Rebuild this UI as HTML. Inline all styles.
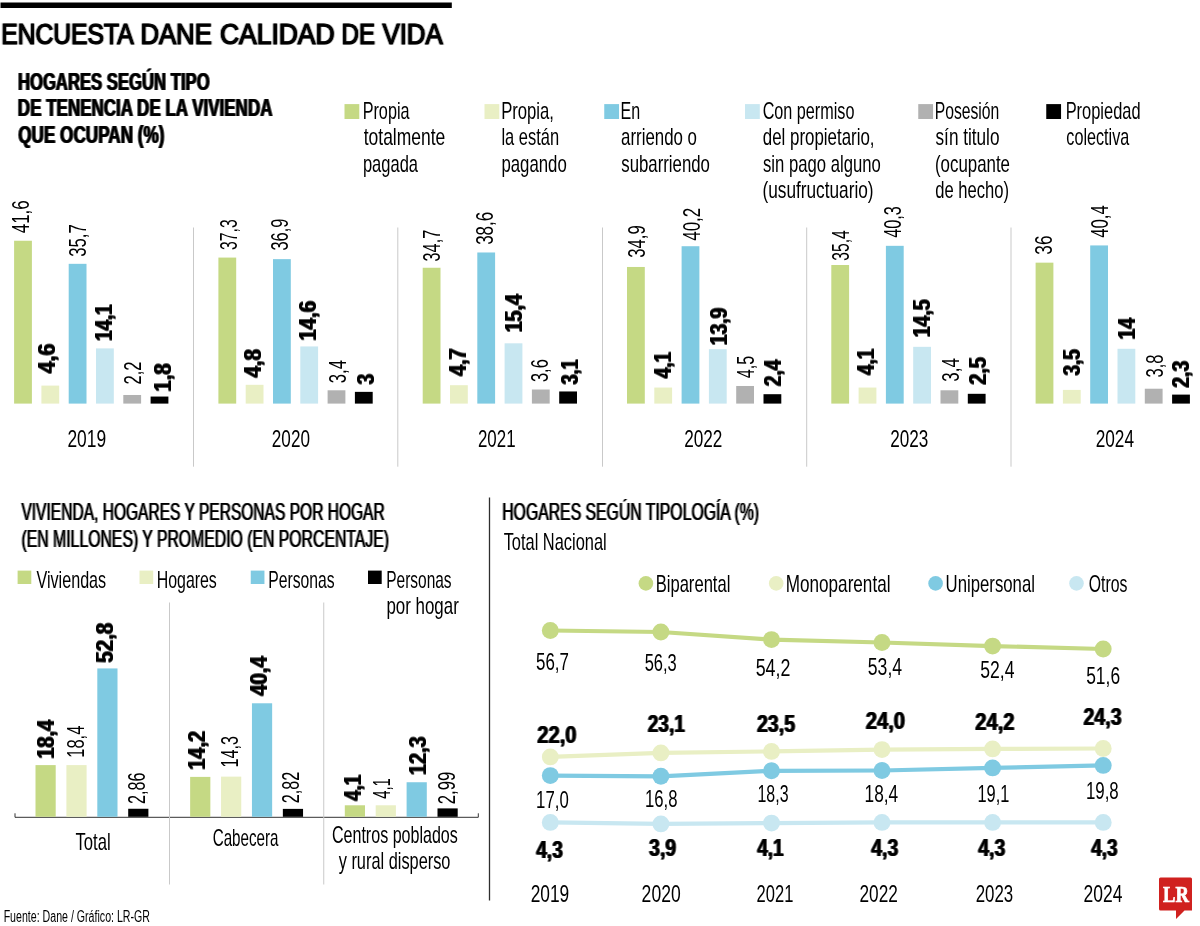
<!DOCTYPE html>
<html lang="es"><head><meta charset="utf-8"><title>Encuesta Dane Calidad de Vida</title>
<style>
html,body{margin:0;padding:0;background:#fff;}
body{width:1200px;height:926px;overflow:hidden;}
svg{display:block;font-family:"Liberation Sans",sans-serif;}
</style></head><body>
<svg width="1200" height="926" viewBox="0 0 1200 926">
<rect width="1200" height="926" fill="#fff"/>
<defs>
<filter id="fht" filterUnits="userSpaceOnUse" x="0" y="0" width="1200" height="926"><feColorMatrix type="matrix" values="1 0 0 0 0 0 1 0 0 0 0 0 1 0 0 0 0 0 0.3 0" result="h"/><feOffset in="h" dx="1" result="a"/><feOffset in="h" dx="-1" result="b"/><feMerge><feMergeNode in="a"/><feMergeNode in="b"/><feMergeNode in="SourceGraphic"/></feMerge></filter>
<filter id="fhm" filterUnits="userSpaceOnUse" x="0" y="0" width="1200" height="926"><feColorMatrix type="matrix" values="1 0 0 0 0 0 1 0 0 0 0 0 1 0 0 0 0 0 0.45 0" result="h"/><feOffset in="h" dx="1" result="a"/><feOffset in="h" dx="-1" result="b"/><feMerge><feMergeNode in="a"/><feMergeNode in="b"/><feMergeNode in="SourceGraphic"/></feMerge></filter>
<filter id="fhb" filterUnits="userSpaceOnUse" x="0" y="0" width="1200" height="926"><feColorMatrix type="matrix" values="1 0 0 0 0 0 1 0 0 0 0 0 1 0 0 0 0 0 0.6 0" result="h"/><feOffset in="h" dx="1" result="a"/><feOffset in="h" dx="-1" result="b"/><feMerge><feMergeNode in="a"/><feMergeNode in="b"/><feMergeNode in="SourceGraphic"/></feMerge></filter>
<filter id="fvb" filterUnits="userSpaceOnUse" x="0" y="0" width="1200" height="926"><feColorMatrix type="matrix" values="1 0 0 0 0 0 1 0 0 0 0 0 1 0 0 0 0 0 0.65 0" result="h"/><feOffset in="h" dy="1" result="a"/><feOffset in="h" dy="-1" result="b"/><feMerge><feMergeNode in="a"/><feMergeNode in="b"/><feMergeNode in="SourceGraphic"/></feMerge></filter>
</defs>
<rect x="0.50" y="2.50" width="451.30" height="5.50" fill="#000"/>
<rect x="344.50" y="104.10" width="14.80" height="14.90" fill="#c5d984"/>
<rect x="484.50" y="104.10" width="14.80" height="14.90" fill="#e9efc4"/>
<rect x="604.25" y="104.10" width="14.80" height="14.90" fill="#7fcae2"/>
<rect x="745.00" y="104.10" width="14.80" height="14.90" fill="#c8e7f1"/>
<rect x="918.25" y="104.10" width="14.80" height="14.90" fill="#b1b1b1"/>
<rect x="1046.25" y="104.10" width="14.80" height="14.90" fill="#000"/>
<rect x="14.10" y="240.74" width="17.80" height="162.86" fill="#c5d984"/>
<rect x="41.40" y="385.59" width="17.80" height="18.01" fill="#e9efc4"/>
<rect x="68.70" y="263.83" width="17.80" height="139.77" fill="#7fcae2"/>
<rect x="96.00" y="348.40" width="17.80" height="55.20" fill="#c8e7f1"/>
<rect x="123.30" y="394.99" width="17.80" height="8.61" fill="#b1b1b1"/>
<rect x="150.60" y="396.55" width="17.80" height="7.05" fill="#000"/>
<line x1="193.50" y1="227.50" x2="193.50" y2="466.70" stroke="#c9c9c9" stroke-width="1"/>
<rect x="218.40" y="257.57" width="17.80" height="146.03" fill="#c5d984"/>
<rect x="245.70" y="384.81" width="17.80" height="18.79" fill="#e9efc4"/>
<rect x="273.00" y="259.14" width="17.80" height="144.46" fill="#7fcae2"/>
<rect x="300.30" y="346.44" width="17.80" height="57.16" fill="#c8e7f1"/>
<rect x="327.60" y="390.29" width="17.80" height="13.31" fill="#b1b1b1"/>
<rect x="354.90" y="391.86" width="17.80" height="11.75" fill="#000"/>
<line x1="397.80" y1="227.50" x2="397.80" y2="466.70" stroke="#c9c9c9" stroke-width="1"/>
<rect x="422.70" y="267.75" width="17.80" height="135.85" fill="#c5d984"/>
<rect x="450.00" y="385.20" width="17.80" height="18.40" fill="#e9efc4"/>
<rect x="477.30" y="252.48" width="17.80" height="151.12" fill="#7fcae2"/>
<rect x="504.60" y="343.31" width="17.80" height="60.29" fill="#c8e7f1"/>
<rect x="531.90" y="389.51" width="17.80" height="14.09" fill="#b1b1b1"/>
<rect x="559.20" y="391.46" width="17.80" height="12.14" fill="#000"/>
<line x1="602.50" y1="227.50" x2="602.50" y2="466.70" stroke="#c9c9c9" stroke-width="1"/>
<rect x="627.00" y="266.97" width="17.80" height="136.63" fill="#c5d984"/>
<rect x="654.30" y="387.55" width="17.80" height="16.05" fill="#e9efc4"/>
<rect x="681.60" y="246.22" width="17.80" height="157.38" fill="#7fcae2"/>
<rect x="708.90" y="349.18" width="17.80" height="54.42" fill="#c8e7f1"/>
<rect x="736.20" y="385.98" width="17.80" height="17.62" fill="#b1b1b1"/>
<rect x="763.50" y="394.20" width="17.80" height="9.40" fill="#000"/>
<line x1="806.70" y1="227.50" x2="806.70" y2="466.70" stroke="#c9c9c9" stroke-width="1"/>
<rect x="831.30" y="265.01" width="17.80" height="138.59" fill="#c5d984"/>
<rect x="858.60" y="387.55" width="17.80" height="16.05" fill="#e9efc4"/>
<rect x="885.90" y="245.83" width="17.80" height="157.77" fill="#7fcae2"/>
<rect x="913.20" y="346.83" width="17.80" height="56.77" fill="#c8e7f1"/>
<rect x="940.50" y="390.29" width="17.80" height="13.31" fill="#b1b1b1"/>
<rect x="967.80" y="393.81" width="17.80" height="9.79" fill="#000"/>
<line x1="1011.00" y1="227.50" x2="1011.00" y2="466.70" stroke="#c9c9c9" stroke-width="1"/>
<rect x="1035.60" y="262.66" width="17.80" height="140.94" fill="#c5d984"/>
<rect x="1062.90" y="389.90" width="17.80" height="13.70" fill="#e9efc4"/>
<rect x="1090.20" y="245.43" width="17.80" height="158.17" fill="#7fcae2"/>
<rect x="1117.50" y="348.79" width="17.80" height="54.81" fill="#c8e7f1"/>
<rect x="1144.80" y="388.72" width="17.80" height="14.88" fill="#b1b1b1"/>
<rect x="1172.10" y="394.60" width="17.80" height="9.00" fill="#000"/>
<rect x="17.60" y="570.60" width="13.70" height="13.40" fill="#c5d984"/>
<rect x="139.50" y="570.60" width="13.70" height="13.40" fill="#e9efc4"/>
<rect x="250.75" y="570.60" width="13.70" height="13.40" fill="#7fcae2"/>
<rect x="368.00" y="570.60" width="13.70" height="13.40" fill="#000"/>
<path d="M15 813.3V817.3H478.3V813.3" fill="none" stroke="#333" stroke-width="1"/>
<line x1="169.50" y1="602.50" x2="169.50" y2="884.50" stroke="#c9c9c9" stroke-width="1"/>
<line x1="323.75" y1="602.50" x2="323.75" y2="884.50" stroke="#c9c9c9" stroke-width="1"/>
<rect x="35.50" y="765.10" width="20.20" height="51.70" fill="#c5d984"/>
<rect x="66.40" y="765.10" width="20.20" height="51.70" fill="#e9efc4"/>
<rect x="97.30" y="668.43" width="20.20" height="148.37" fill="#7fcae2"/>
<rect x="128.20" y="808.76" width="20.20" height="8.04" fill="#000"/>
<rect x="190.15" y="776.90" width="20.20" height="39.90" fill="#c5d984"/>
<rect x="221.05" y="776.62" width="20.20" height="40.18" fill="#e9efc4"/>
<rect x="251.95" y="703.28" width="20.20" height="113.52" fill="#7fcae2"/>
<rect x="282.85" y="808.88" width="20.20" height="7.92" fill="#000"/>
<rect x="344.80" y="805.28" width="20.20" height="11.52" fill="#c5d984"/>
<rect x="375.70" y="805.28" width="20.20" height="11.52" fill="#e9efc4"/>
<rect x="406.60" y="782.24" width="20.20" height="34.56" fill="#7fcae2"/>
<rect x="437.50" y="808.40" width="20.20" height="8.40" fill="#000"/>
<line x1="489.50" y1="497.50" x2="489.50" y2="900.50" stroke="#2e2e2e" stroke-width="1.3"/>
<polyline points="550.3,630.5 660.9,632.0 771.5,639.6 882.0,642.5 992.6,646.1 1103.2,649.0" fill="none" stroke="#c5d984" stroke-width="4.2" stroke-linejoin="round"/>
<circle cx="550.3" cy="630.5" r="8.45" fill="#c5d984"/>
<circle cx="660.9" cy="632.0" r="8.45" fill="#c5d984"/>
<circle cx="771.5" cy="639.6" r="8.45" fill="#c5d984"/>
<circle cx="882.0" cy="642.5" r="8.45" fill="#c5d984"/>
<circle cx="992.6" cy="646.1" r="8.45" fill="#c5d984"/>
<circle cx="1103.2" cy="649.0" r="8.45" fill="#c5d984"/>
<polyline points="550.3,756.9 660.9,752.9 771.5,751.4 882.0,749.6 992.6,748.9 1103.2,748.5" fill="none" stroke="#e9efc4" stroke-width="4.2" stroke-linejoin="round"/>
<circle cx="550.3" cy="756.9" r="8.45" fill="#e9efc4"/>
<circle cx="660.9" cy="752.9" r="8.45" fill="#e9efc4"/>
<circle cx="771.5" cy="751.4" r="8.45" fill="#e9efc4"/>
<circle cx="882.0" cy="749.6" r="8.45" fill="#e9efc4"/>
<circle cx="992.6" cy="748.9" r="8.45" fill="#e9efc4"/>
<circle cx="1103.2" cy="748.5" r="8.45" fill="#e9efc4"/>
<polyline points="550.3,775.6 660.9,776.3 771.5,770.8 882.0,770.5 992.6,767.9 1103.2,765.4" fill="none" stroke="#7fcae2" stroke-width="4.2" stroke-linejoin="round"/>
<circle cx="550.3" cy="775.6" r="8.45" fill="#7fcae2"/>
<circle cx="660.9" cy="776.3" r="8.45" fill="#7fcae2"/>
<circle cx="771.5" cy="770.8" r="8.45" fill="#7fcae2"/>
<circle cx="882.0" cy="770.5" r="8.45" fill="#7fcae2"/>
<circle cx="992.6" cy="767.9" r="8.45" fill="#7fcae2"/>
<circle cx="1103.2" cy="765.4" r="8.45" fill="#7fcae2"/>
<polyline points="550.3,822.4 660.9,823.9 771.5,823.1 882.0,822.4 992.6,822.4 1103.2,822.4" fill="none" stroke="#c8e7f1" stroke-width="4.2" stroke-linejoin="round"/>
<circle cx="550.3" cy="822.4" r="8.45" fill="#c8e7f1"/>
<circle cx="660.9" cy="823.9" r="8.45" fill="#c8e7f1"/>
<circle cx="771.5" cy="823.1" r="8.45" fill="#c8e7f1"/>
<circle cx="882.0" cy="822.4" r="8.45" fill="#c8e7f1"/>
<circle cx="992.6" cy="822.4" r="8.45" fill="#c8e7f1"/>
<circle cx="1103.2" cy="822.4" r="8.45" fill="#c8e7f1"/>
<circle cx="645.9" cy="583.4" r="7.3" fill="#c5d984"/>
<circle cx="776.2" cy="583.4" r="7.3" fill="#e9efc4"/>
<circle cx="935.6" cy="583.4" r="7.3" fill="#7fcae2"/>
<circle cx="1076.5" cy="583.4" r="7.3" fill="#c8e7f1"/>
<path d="M1160.5 877.5H1190.5Q1192 877.5 1192 879V910.4H1184.5L1176 919V910.4H1160.5Q1159 910.4 1159 908.9V879Q1159 877.5 1160.5 877.5Z" fill="#d0211f"/>
<text x="1163" y="901.7" font-family="'Liberation Serif',serif" font-weight="700" font-size="23" fill="#fff" stroke="#fff" stroke-width="0.7" textLength="25.8" lengthAdjust="spacingAndGlyphs">LR</text>
<g filter="url(#fht)">
<text y="44.40" font-size="28.8" stroke="#000" stroke-width="1.1" fill="#000"><tspan x="1.30" textLength="130.95" lengthAdjust="spacingAndGlyphs">ENCUESTA</tspan> <tspan x="140.39" textLength="71.41" lengthAdjust="spacingAndGlyphs">DANE</tspan> <tspan x="219.96" textLength="114.61" lengthAdjust="spacingAndGlyphs">CALIDAD</tspan> <tspan x="341.58" textLength="33.35" lengthAdjust="spacingAndGlyphs">DE</tspan> <tspan x="382.44" textLength="60.31" lengthAdjust="spacingAndGlyphs">VIDA</tspan></text>
</g>
<g filter="url(#fhm)">
<text transform="translate(21.43 519.80)" x="0.00" y="0" font-size="24.5" fill="#000" textLength="363.29" lengthAdjust="spacingAndGlyphs">VIVIENDA, HOGARES Y PERSONAS POR HOGAR</text>
<text transform="translate(21.52 546.50)" x="0.00" y="0" font-size="24.5" fill="#000" textLength="367.46" lengthAdjust="spacingAndGlyphs">(EN MILLONES) Y PROMEDIO (EN PORCENTAJE)</text>
<text transform="translate(502.20 519.80)" x="0.00" y="0" font-size="24.5" fill="#000" textLength="256.77" lengthAdjust="spacingAndGlyphs">HOGARES SEGÚN TIPOLOGÍA (%)</text>
</g>
<g>
<text transform="translate(362.67 118.80)" x="0.00" y="0" font-size="24" fill="#000" textLength="46.83" lengthAdjust="spacingAndGlyphs">Propia</text>
<text transform="translate(363.74 145.30)" x="0.00" y="0" font-size="24" fill="#000" textLength="81.54" lengthAdjust="spacingAndGlyphs">totalmente</text>
<text transform="translate(362.94 171.80)" x="0.00" y="0" font-size="24" fill="#000" textLength="55.06" lengthAdjust="spacingAndGlyphs">pagada</text>
<text transform="translate(501.13 118.80)" x="0.00" y="0" font-size="24" fill="#000" textLength="52.87" lengthAdjust="spacingAndGlyphs">Propia,</text>
<text transform="translate(501.39 145.30)" x="0.00" y="0" font-size="24" fill="#000" textLength="57.68" lengthAdjust="spacingAndGlyphs">la están</text>
<text transform="translate(501.42 171.80)" x="0.00" y="0" font-size="24" fill="#000" textLength="65.29" lengthAdjust="spacingAndGlyphs">pagando</text>
<text transform="translate(620.44 118.80)" x="0.00" y="0" font-size="24" fill="#000" textLength="19.61" lengthAdjust="spacingAndGlyphs">En</text>
<text transform="translate(621.03 145.30)" x="0.00" y="0" font-size="24" fill="#000" textLength="75.92" lengthAdjust="spacingAndGlyphs">arriendo o</text>
<text transform="translate(621.28 171.80)" x="0.00" y="0" font-size="24" fill="#000" textLength="88.67" lengthAdjust="spacingAndGlyphs">subarriendo</text>
<text transform="translate(762.68 118.80)" x="0.00" y="0" font-size="24" fill="#000" textLength="91.75" lengthAdjust="spacingAndGlyphs">Con permiso</text>
<text transform="translate(762.79 145.30)" x="0.00" y="0" font-size="24" fill="#000" textLength="111.73" lengthAdjust="spacingAndGlyphs">del propietario,</text>
<text transform="translate(763.04 171.80)" x="0.00" y="0" font-size="24" fill="#000" textLength="117.66" lengthAdjust="spacingAndGlyphs">sin pago alguno</text>
<text transform="translate(762.43 198.30)" x="0.00" y="0" font-size="24" fill="#000" textLength="111.14" lengthAdjust="spacingAndGlyphs">(usufructuario)</text>
<text transform="translate(934.71 118.80)" x="0.00" y="0" font-size="24" fill="#000" textLength="64.56" lengthAdjust="spacingAndGlyphs">Posesión</text>
<text transform="translate(935.52 145.30)" x="0.00" y="0" font-size="24" fill="#000" textLength="63.95" lengthAdjust="spacingAndGlyphs">sín titulo</text>
<text transform="translate(934.95 171.80)" x="0.00" y="0" font-size="24" fill="#000" textLength="75.05" lengthAdjust="spacingAndGlyphs">(ocupante</text>
<text transform="translate(935.30 198.30)" x="0.00" y="0" font-size="24" fill="#000" textLength="73.72" lengthAdjust="spacingAndGlyphs">de hecho)</text>
<text transform="translate(1065.65 118.80)" x="0.00" y="0" font-size="24" fill="#000" textLength="74.91" lengthAdjust="spacingAndGlyphs">Propiedad</text>
<text transform="translate(1066.31 145.30)" x="0.00" y="0" font-size="24" fill="#000" textLength="62.94" lengthAdjust="spacingAndGlyphs">colectiva</text>
<text transform="translate(67.43 446.80)" x="0.00" y="0" font-size="24" fill="#000" textLength="38.70" lengthAdjust="spacingAndGlyphs">2019</text>
<text transform="translate(271.84 446.80)" x="0.00" y="0" font-size="24" fill="#000" textLength="38.13" lengthAdjust="spacingAndGlyphs">2020</text>
<text transform="translate(477.95 446.80)" x="0.00" y="0" font-size="24" fill="#000" textLength="37.57" lengthAdjust="spacingAndGlyphs">2021</text>
<text transform="translate(684.14 446.80)" x="0.00" y="0" font-size="24" fill="#000" textLength="38.23" lengthAdjust="spacingAndGlyphs">2022</text>
<text transform="translate(890.14 446.80)" x="0.00" y="0" font-size="24" fill="#000" textLength="38.11" lengthAdjust="spacingAndGlyphs">2023</text>
<text transform="translate(1095.63 446.80)" x="0.00" y="0" font-size="24" fill="#000" textLength="38.37" lengthAdjust="spacingAndGlyphs">2024</text>
<text transform="translate(36.43 587.70)" x="0.00" y="0" font-size="24" fill="#000" textLength="69.75" lengthAdjust="spacingAndGlyphs">Viviendas</text>
<text transform="translate(156.70 587.70)" x="0.00" y="0" font-size="24" fill="#000" textLength="60.13" lengthAdjust="spacingAndGlyphs">Hogares</text>
<text transform="translate(268.21 587.70)" x="0.00" y="0" font-size="24" fill="#000" textLength="66.36" lengthAdjust="spacingAndGlyphs">Personas</text>
<text transform="translate(386.23 587.70)" x="0.00" y="0" font-size="24" fill="#000" textLength="65.33" lengthAdjust="spacingAndGlyphs">Personas</text>
<text transform="translate(386.41 613.70)" x="0.00" y="0" font-size="24" fill="#000" textLength="72.37" lengthAdjust="spacingAndGlyphs">por hogar</text>
<text transform="translate(75.43 850.00)" x="0.00" y="0" font-size="24" fill="#000" textLength="35.19" lengthAdjust="spacingAndGlyphs">Total</text>
<text transform="translate(212.73 845.70)" x="0.00" y="0" font-size="24" fill="#000" textLength="65.77" lengthAdjust="spacingAndGlyphs">Cabecera</text>
<text transform="translate(331.93 843.20)" x="0.00" y="0" font-size="24" fill="#000" textLength="125.90" lengthAdjust="spacingAndGlyphs">Centros poblados</text>
<text transform="translate(338.71 869.00)" x="0.00" y="0" font-size="24" fill="#000" textLength="111.73" lengthAdjust="spacingAndGlyphs">y rural disperso</text>
<text transform="translate(3.63 922.00)" x="0.00" y="0" font-size="16" fill="#000" textLength="146.36" lengthAdjust="spacingAndGlyphs">Fuente: Dane / Gráfico: LR-GR</text>
<text transform="translate(503.63 550.00)" x="0.00" y="0" font-size="24" fill="#000" textLength="103.07" lengthAdjust="spacingAndGlyphs">Total Nacional</text>
<text transform="translate(655.64 592.00)" x="0.00" y="0" font-size="24" fill="#000" textLength="74.77" lengthAdjust="spacingAndGlyphs">Biparental</text>
<text transform="translate(785.80 592.00)" x="0.00" y="0" font-size="24" fill="#000" textLength="104.65" lengthAdjust="spacingAndGlyphs">Monoparental</text>
<text transform="translate(945.61 592.00)" x="0.00" y="0" font-size="24" fill="#000" textLength="89.31" lengthAdjust="spacingAndGlyphs">Unipersonal</text>
<text transform="translate(1088.75 592.00)" x="0.00" y="0" font-size="24" fill="#000" textLength="38.62" lengthAdjust="spacingAndGlyphs">Otros</text>
<text transform="translate(536.02 669.50)" x="0.00" y="0" font-size="23.7" fill="#000" textLength="32.93" lengthAdjust="spacingAndGlyphs">56,7</text>
<text transform="translate(644.64 670.50)" x="0.00" y="0" font-size="23.7" fill="#000" textLength="32.08" lengthAdjust="spacingAndGlyphs">56,3</text>
<text transform="translate(755.69 676.00)" x="0.00" y="0" font-size="23.7" fill="#000" textLength="34.71" lengthAdjust="spacingAndGlyphs">54,2</text>
<text transform="translate(867.79 675.30)" x="0.00" y="0" font-size="23.7" fill="#000" textLength="34.32" lengthAdjust="spacingAndGlyphs">53,4</text>
<text transform="translate(980.30 677.60)" x="0.00" y="0" font-size="23.7" fill="#000" textLength="34.22" lengthAdjust="spacingAndGlyphs">52,4</text>
<text transform="translate(1086.20 684.10)" x="0.00" y="0" font-size="23.7" fill="#000" textLength="33.86" lengthAdjust="spacingAndGlyphs">51,6</text>
<text transform="translate(536.12 808.20)" x="0.00" y="0" font-size="23.7" fill="#000" textLength="32.63" lengthAdjust="spacingAndGlyphs">17,0</text>
<text transform="translate(644.93 807.20)" x="0.00" y="0" font-size="23.7" fill="#000" textLength="32.50" lengthAdjust="spacingAndGlyphs">16,8</text>
<text transform="translate(757.49 801.70)" x="0.00" y="0" font-size="23.7" fill="#000" textLength="31.01" lengthAdjust="spacingAndGlyphs">18,3</text>
<text transform="translate(864.58 802.40)" x="0.00" y="0" font-size="23.7" fill="#000" textLength="33.62" lengthAdjust="spacingAndGlyphs">18,4</text>
<text transform="translate(977.45 802.40)" x="0.00" y="0" font-size="23.7" fill="#000" textLength="31.85" lengthAdjust="spacingAndGlyphs">19,1</text>
<text transform="translate(1085.92 799.10)" x="0.00" y="0" font-size="23.7" fill="#000" textLength="32.82" lengthAdjust="spacingAndGlyphs">19,8</text>
<text transform="translate(530.63 902.00)" x="0.00" y="0" font-size="24" fill="#000" textLength="38.59" lengthAdjust="spacingAndGlyphs">2019</text>
<text transform="translate(641.62 902.00)" x="0.00" y="0" font-size="24" fill="#000" textLength="39.07" lengthAdjust="spacingAndGlyphs">2020</text>
<text transform="translate(756.57 902.00)" x="0.00" y="0" font-size="24" fill="#000" textLength="36.74" lengthAdjust="spacingAndGlyphs">2021</text>
<text transform="translate(859.53 902.00)" x="0.00" y="0" font-size="24" fill="#000" textLength="38.33" lengthAdjust="spacingAndGlyphs">2022</text>
<text transform="translate(975.65 902.00)" x="0.00" y="0" font-size="24" fill="#000" textLength="37.59" lengthAdjust="spacingAndGlyphs">2023</text>
<text transform="translate(1083.62 902.00)" x="0.00" y="0" font-size="24" fill="#000" textLength="38.89" lengthAdjust="spacingAndGlyphs">2024</text>
</g>
<g filter="url(#fhb)">
<text transform="translate(17.88 89.50)" x="0.00" y="0" font-size="24.5" font-weight="700" fill="#000" textLength="191.82" lengthAdjust="spacingAndGlyphs">HOGARES SEGÚN TIPO</text>
<text transform="translate(17.86 115.70)" x="0.00" y="0" font-size="24.5" font-weight="700" fill="#000" textLength="254.58" lengthAdjust="spacingAndGlyphs">DE TENENCIA DE LA VIVIENDA</text>
<text transform="translate(18.30 142.50)" x="0.00" y="0" font-size="24.5" font-weight="700" fill="#000" textLength="146.05" lengthAdjust="spacingAndGlyphs">QUE OCUPAN (%)</text>
<text transform="translate(537.20 743.40)" x="0.00" y="0" font-size="23.7" font-weight="700" fill="#000" textLength="39.33" lengthAdjust="spacingAndGlyphs">22,0</text>
<text transform="translate(647.74 732.00)" x="0.00" y="0" font-size="23.7" font-weight="700" fill="#000" textLength="37.09" lengthAdjust="spacingAndGlyphs">23,1</text>
<text transform="translate(756.92 732.00)" x="0.00" y="0" font-size="23.7" font-weight="700" fill="#000" textLength="38.12" lengthAdjust="spacingAndGlyphs">23,5</text>
<text transform="translate(865.70 728.80)" x="0.00" y="0" font-size="23.7" font-weight="700" fill="#000" textLength="39.43" lengthAdjust="spacingAndGlyphs">24,0</text>
<text transform="translate(975.30 730.40)" x="0.00" y="0" font-size="23.7" font-weight="700" fill="#000" textLength="39.31" lengthAdjust="spacingAndGlyphs">24,2</text>
<text transform="translate(1083.52 724.90)" x="0.00" y="0" font-size="23.7" font-weight="700" fill="#000" textLength="37.98" lengthAdjust="spacingAndGlyphs">24,3</text>
<text transform="translate(536.21 857.60)" x="0.00" y="0" font-size="23.7" font-weight="700" fill="#000" textLength="26.58" lengthAdjust="spacingAndGlyphs">4,3</text>
<text transform="translate(649.05 855.50)" x="0.00" y="0" font-size="23.7" font-weight="700" fill="#000" textLength="27.17" lengthAdjust="spacingAndGlyphs">3,9</text>
<text transform="translate(757.21 856.30)" x="0.00" y="0" font-size="23.7" font-weight="700" fill="#000" textLength="26.42" lengthAdjust="spacingAndGlyphs">4,1</text>
<text transform="translate(871.21 856.30)" x="0.00" y="0" font-size="23.7" font-weight="700" fill="#000" textLength="27.00" lengthAdjust="spacingAndGlyphs">4,3</text>
<text transform="translate(978.21 856.30)" x="0.00" y="0" font-size="23.7" font-weight="700" fill="#000" textLength="27.00" lengthAdjust="spacingAndGlyphs">4,3</text>
<text transform="translate(1091.21 856.30)" x="0.00" y="0" font-size="23.7" font-weight="700" fill="#000" textLength="26.37" lengthAdjust="spacingAndGlyphs">4,3</text>
</g>
<g>
<text transform="translate(28.80 233.19) rotate(-90)" x="0.00" y="0" font-size="23.5" fill="#000" textLength="32.93" lengthAdjust="spacingAndGlyphs">41,6</text>
<text transform="translate(86.20 256.74) rotate(-90)" x="0.00" y="0" font-size="23.5" fill="#000" textLength="32.58" lengthAdjust="spacingAndGlyphs">35,7</text>
<text transform="translate(140.80 384.43) rotate(-90)" x="0.00" y="0" font-size="23.5" fill="#000" textLength="22.96" lengthAdjust="spacingAndGlyphs">2,2</text>
<text transform="translate(237.40 250.00) rotate(-90)" x="0.00" y="0" font-size="23.5" fill="#000" textLength="30.69" lengthAdjust="spacingAndGlyphs">37,3</text>
<text transform="translate(288.40 250.53) rotate(-90)" x="0.00" y="0" font-size="23.5" fill="#000" textLength="32.01" lengthAdjust="spacingAndGlyphs">36,9</text>
<text transform="translate(346.00 383.13) rotate(-90)" x="0.00" y="0" font-size="23.5" fill="#000" textLength="23.12" lengthAdjust="spacingAndGlyphs">3,4</text>
<text transform="translate(440.20 261.42) rotate(-90)" x="0.00" y="0" font-size="23.5" fill="#000" textLength="31.64" lengthAdjust="spacingAndGlyphs">34,7</text>
<text transform="translate(493.40 244.85) rotate(-90)" x="0.00" y="0" font-size="23.5" fill="#000" textLength="33.09" lengthAdjust="spacingAndGlyphs">38,6</text>
<text transform="translate(548.30 382.03) rotate(-90)" x="0.00" y="0" font-size="23.5" fill="#000" textLength="22.85" lengthAdjust="spacingAndGlyphs">3,6</text>
<text transform="translate(644.50 257.73) rotate(-90)" x="0.00" y="0" font-size="23.5" fill="#000" textLength="32.42" lengthAdjust="spacingAndGlyphs">34,9</text>
<text transform="translate(700.00 240.79) rotate(-90)" x="0.00" y="0" font-size="23.5" fill="#000" textLength="33.04" lengthAdjust="spacingAndGlyphs">40,2</text>
<text transform="translate(754.00 378.37) rotate(-90)" x="0.00" y="0" font-size="23.5" fill="#000" textLength="22.55" lengthAdjust="spacingAndGlyphs">4,5</text>
<text transform="translate(848.80 260.70) rotate(-90)" x="0.00" y="0" font-size="23.5" fill="#000" textLength="30.56" lengthAdjust="spacingAndGlyphs">35,4</text>
<text transform="translate(901.20 237.77) rotate(-90)" x="0.00" y="0" font-size="23.5" fill="#000" textLength="31.69" lengthAdjust="spacingAndGlyphs">40,3</text>
<text transform="translate(959.00 381.64) rotate(-90)" x="0.00" y="0" font-size="23.5" fill="#000" textLength="23.44" lengthAdjust="spacingAndGlyphs">3,4</text>
<text transform="translate(1051.70 254.65) rotate(-90)" x="0.00" y="0" font-size="23.5" fill="#000" textLength="19.11" lengthAdjust="spacingAndGlyphs">36</text>
<text transform="translate(1107.70 237.78) rotate(-90)" x="0.00" y="0" font-size="23.5" fill="#000" textLength="32.57" lengthAdjust="spacingAndGlyphs">40,4</text>
<text transform="translate(1163.30 377.53) rotate(-90)" x="0.00" y="0" font-size="23.5" fill="#000" textLength="22.95" lengthAdjust="spacingAndGlyphs">3,8</text>
<text transform="translate(84.20 757.76) rotate(-90)" x="0.00" y="0" font-size="23.5" fill="#000" textLength="32.14" lengthAdjust="spacingAndGlyphs">18,4</text>
<text transform="translate(144.70 804.02) rotate(-90)" x="0.00" y="0" font-size="23.5" fill="#000" textLength="31.63" lengthAdjust="spacingAndGlyphs">2,86</text>
<text transform="translate(238.30 767.53) rotate(-90)" x="0.00" y="0" font-size="23.5" fill="#000" textLength="31.44" lengthAdjust="spacingAndGlyphs">14,3</text>
<text transform="translate(299.00 803.32) rotate(-90)" x="0.00" y="0" font-size="23.5" fill="#000" textLength="31.74" lengthAdjust="spacingAndGlyphs">2,82</text>
<text transform="translate(389.90 798.84) rotate(-90)" x="0.00" y="0" font-size="23.5" fill="#000" textLength="20.67" lengthAdjust="spacingAndGlyphs">4,1</text>
<text transform="translate(455.20 804.24) rotate(-90)" x="0.00" y="0" font-size="23.5" fill="#000" textLength="32.53" lengthAdjust="spacingAndGlyphs">2,99</text>
</g>
<g filter="url(#fvb)">
<text transform="translate(54.60 373.22) rotate(-90)" x="0.00" y="0" font-size="23.5" font-weight="700" fill="#000" textLength="29.59" lengthAdjust="spacingAndGlyphs">4,6</text>
<text transform="translate(111.90 341.09) rotate(-90)" x="0.00" y="0" font-size="23.5" font-weight="700" fill="#000" textLength="36.71" lengthAdjust="spacingAndGlyphs">14,1</text>
<text transform="translate(170.60 391.69) rotate(-90)" x="0.00" y="0" font-size="23.5" font-weight="700" fill="#000" textLength="28.42" lengthAdjust="spacingAndGlyphs">1,8</text>
<text transform="translate(260.60 377.61) rotate(-90)" x="0.00" y="0" font-size="23.5" font-weight="700" fill="#000" textLength="28.54" lengthAdjust="spacingAndGlyphs">4,8</text>
<text transform="translate(316.10 340.79) rotate(-90)" x="0.00" y="0" font-size="23.5" font-weight="700" fill="#000" textLength="39.93" lengthAdjust="spacingAndGlyphs">14,6</text>
<text transform="translate(373.90 384.54) rotate(-90)" x="0.00" y="0" font-size="23.5" font-weight="700" fill="#000" textLength="10.63" lengthAdjust="spacingAndGlyphs">3</text>
<text transform="translate(466.00 376.00) rotate(-90)" x="0.00" y="0" font-size="23.5" font-weight="700" fill="#000" textLength="27.68" lengthAdjust="spacingAndGlyphs">4,7</text>
<text transform="translate(521.60 332.34) rotate(-90)" x="0.00" y="0" font-size="23.5" font-weight="700" fill="#000" textLength="38.35" lengthAdjust="spacingAndGlyphs">15,4</text>
<text transform="translate(578.30 384.51) rotate(-90)" x="0.00" y="0" font-size="23.5" font-weight="700" fill="#000" textLength="25.12" lengthAdjust="spacingAndGlyphs">3,1</text>
<text transform="translate(671.00 378.29) rotate(-90)" x="0.00" y="0" font-size="23.5" font-weight="700" fill="#000" textLength="26.42" lengthAdjust="spacingAndGlyphs">4,1</text>
<text transform="translate(726.80 345.21) rotate(-90)" x="0.00" y="0" font-size="23.5" font-weight="700" fill="#000" textLength="37.53" lengthAdjust="spacingAndGlyphs">13,9</text>
<text transform="translate(781.20 386.16) rotate(-90)" x="0.00" y="0" font-size="23.5" font-weight="700" fill="#000" textLength="26.36" lengthAdjust="spacingAndGlyphs">2,4</text>
<text transform="translate(874.40 374.89) rotate(-90)" x="0.00" y="0" font-size="23.5" font-weight="700" fill="#000" textLength="26.21" lengthAdjust="spacingAndGlyphs">4,1</text>
<text transform="translate(929.50 337.33) rotate(-90)" x="0.00" y="0" font-size="23.5" font-weight="700" fill="#000" textLength="38.08" lengthAdjust="spacingAndGlyphs">14,5</text>
<text transform="translate(985.50 384.79) rotate(-90)" x="0.00" y="0" font-size="23.5" font-weight="700" fill="#000" textLength="27.75" lengthAdjust="spacingAndGlyphs">2,5</text>
<text transform="translate(1080.00 375.43) rotate(-90)" x="0.00" y="0" font-size="23.5" font-weight="700" fill="#000" textLength="26.26" lengthAdjust="spacingAndGlyphs">3,5</text>
<text transform="translate(1135.40 339.53) rotate(-90)" x="0.00" y="0" font-size="23.5" font-weight="700" fill="#000" textLength="21.74" lengthAdjust="spacingAndGlyphs">14</text>
<text transform="translate(1189.30 387.77) rotate(-90)" x="0.00" y="0" font-size="23.5" font-weight="700" fill="#000" textLength="26.97" lengthAdjust="spacingAndGlyphs">2,3</text>
<text transform="translate(54.00 758.87) rotate(-90)" x="0.00" y="0" font-size="23.5" font-weight="700" fill="#000" textLength="39.18" lengthAdjust="spacingAndGlyphs">18,4</text>
<text transform="translate(113.00 662.63) rotate(-90)" x="0.00" y="0" font-size="23.5" font-weight="700" fill="#000" textLength="39.86" lengthAdjust="spacingAndGlyphs">52,8</text>
<text transform="translate(204.60 769.75) rotate(-90)" x="0.00" y="0" font-size="23.5" font-weight="700" fill="#000" textLength="38.75" lengthAdjust="spacingAndGlyphs">14,2</text>
<text transform="translate(266.60 695.81) rotate(-90)" x="0.00" y="0" font-size="23.5" font-weight="700" fill="#000" textLength="39.62" lengthAdjust="spacingAndGlyphs">40,4</text>
<text transform="translate(361.30 800.78) rotate(-90)" x="0.00" y="0" font-size="23.5" font-weight="700" fill="#000" textLength="26.00" lengthAdjust="spacingAndGlyphs">4,1</text>
<text transform="translate(425.80 775.05) rotate(-90)" x="0.00" y="0" font-size="23.5" font-weight="700" fill="#000" textLength="38.56" lengthAdjust="spacingAndGlyphs">12,3</text>
</g>
</svg>
</body></html>
